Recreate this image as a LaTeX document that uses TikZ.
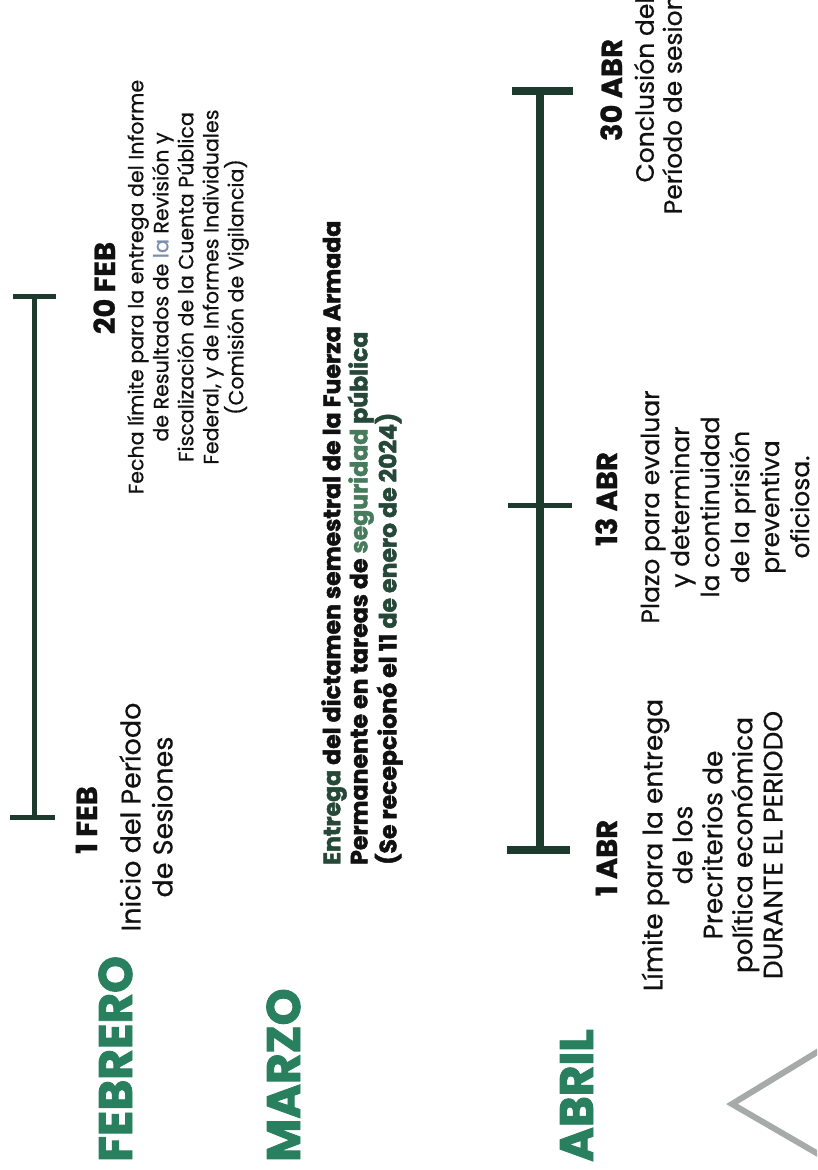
\documentclass[tikz,border=0pt]{standalone}
\usepackage{fontspec}
\setmainfont{Poppins}[UprightFeatures={FakeBold=0.6}, BoldFeatures={FakeBold=0.9}]
\newfontfamily\heavyfont{Poppins}[BoldFeatures={FakeBold=2}]
\definecolor{monthgreen}{RGB}{41,128,95}
\definecolor{linegreen}{RGB}{28,58,46}
\definecolor{dkgreen}{RGB}{38,72,56}
\definecolor{midgreen}{RGB}{72,122,92}
\definecolor{bluegray}{RGB}{125,142,172}
\definecolor{chevgray}{RGB}{166,170,168}
\definecolor{txt}{RGB}{17,17,17}
\tikzset{
  month/.style={rotate=90, inner sep=0pt, text=monthgreen, font=\heavyfont\bfseries\fontsize{47}{50}\selectfont},
  datelbl/.style={rotate=90, inner sep=0pt, text=txt, font=\bfseries\fontsize{29}{32}\selectfont},
  desc/.style={rotate=90, inner sep=0pt, text=txt, align=center},
  tlfeb/.style={draw=linegreen, line width=5pt},
  tlabr/.style={draw=linegreen, line width=7.5pt},
  chev/.style={draw=chevgray, line width=6pt, line join=miter}
}
\begin{document}
\begin{tikzpicture}[x=1pt,y=-1pt]
\useasboundingbox (0,0) rectangle (817,1170);
\clip (0,0) rectangle (817,1170);

% ---------- FEBRERO timeline ----------
\coordinate (fTop) at (34,296);
\coordinate (fBot) at (34,817);
\coordinate (fTopL) at (13,296);
\coordinate (fTopR) at (56,296);
\coordinate (fBotL) at (10,817);
\coordinate (fBotR) at (55,817);
\draw[tlfeb] (fTop) -- (fBot);
\draw[tlfeb] (fTopL) -- (fTopR);
\draw[tlfeb] (fBotL) -- (fBotR);

\node[month, anchor=base west] (feb) at (132,1162) {FEBRERO};
\node[datelbl, anchor=base] (d1feb) at (97,820) {1 FEB};
\node[desc, font=\fontsize{27}{32}\selectfont] (inicio) at (146,817)
  {Inicio del Período\\de Sesiones};
\node[datelbl, anchor=base] (d20feb) at (115,288) {20 FEB};
\node[desc, font=\fontsize{20.6}{25}\selectfont] (fecha) at (188,287)
  {Fecha límite para la entrega del Informe\\
   de Resultados de {\color{bluegray}la} Revisión y\\
   Fiscalización de la Cuenta Pública\\
   Federal, y de Informes Individuales\\
   (Comisión de Vigilancia)};

% ---------- MARZO ----------
\node[month, anchor=base west] (mar) at (300,1162) {MARZO};
\node[rotate=90, inner sep=0pt, text=txt, align=left, anchor=west,
      font=\heavyfont\bfseries\fontsize{23.6}{24.5}\selectfont] (dictamen) at (362,865)
  {{\color{dkgreen}Entrega} del dictamen semestral de la Fuerza Armada\\
   Permanente en tareas de {\color{midgreen}seguridad} {\color{dkgreen}pública}\\
   (Se recepcionó el 11 {\color{dkgreen}de enero de 2024)}};

% ---------- ABRIL timeline ----------
\coordinate (aTop) at (540,91);
\coordinate (aBot) at (540,850);
\coordinate (aTopL) at (512,91);
\coordinate (aTopR) at (573,91);
\coordinate (aMidL) at (508,505);
\coordinate (aMidR) at (572,505);
\coordinate (aBotL) at (507,850);
\coordinate (aBotR) at (570,850);
\draw[tlabr] (aTop) -- (aBot);
\draw[tlabr] (aTopL) -- (aTopR);
\draw[tlabr, line width=5pt] (aMidL) -- (aMidR);
\draw[tlabr] (aBotL) -- (aBotR);

\node[month, anchor=base west] (abr) at (593,1162) {ABRIL};
\node[datelbl, anchor=base] (d1abr) at (617,858) {1 ABR};
\node[desc, font=\fontsize{26.5}{30}\selectfont] (limite) at (712,845)
  {Límite para la entrega\\de los\\Precriterios de\\política económica\\DURANTE EL PERIODO};
\node[datelbl, anchor=base] (d13abr) at (617,499) {13 ABR};
\node[desc, font=\fontsize{25}{30}\selectfont] (plazo) at (725,507)
  {Plazo para evaluar\\y determinar\\la continuidad\\de la prisión\\preventiva\\oficiosa.};
\node[datelbl, anchor=base] (d30abr) at (622,90) {30 ABR};
\node[desc, font=\fontsize{25}{28}\selectfont] (conclusion) at (658,90)
  {Conclusión del\\Período de sesiones};

% ---------- chevron ----------
\coordinate (cA) at (832,1043);
\coordinate (cB) at (732,1104);
\coordinate (cC) at (832,1162);
\draw[chev] (cA) -- (cB) -- (cC);
\end{tikzpicture}
\end{document}
